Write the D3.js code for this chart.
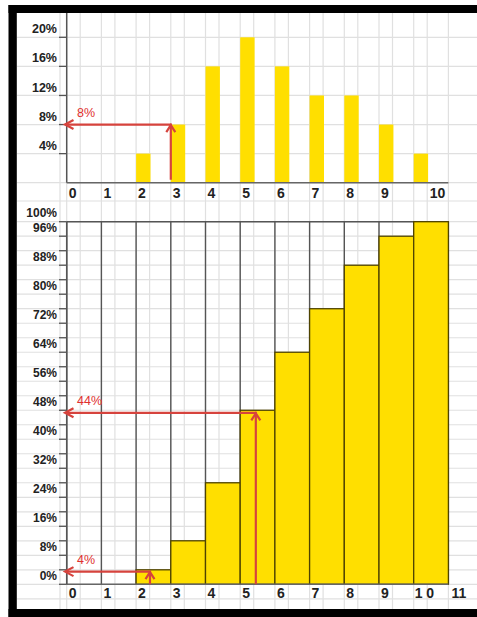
<!DOCTYPE html>
<html>
<head>
<meta charset="utf-8">
<script src="https://cdn.jsdelivr.net/npm/d3@7"></script>
<style>
  body { margin: 0; background: #fff; }
  svg { display: block; }
  text { font-family: "Liberation Sans", Arial, sans-serif; }
</style>
</head>
<body>
<div id="chart"></div>
<script>
// outcomes and their probabilities (%)
var categories = [0, 1, 2, 3, 4, 5, 6, 7, 8, 9, 10];
var probability = [0, 0, 4, 8, 16, 20, 16, 12, 12, 8, 4];
var cumulative = [0, 0, 4, 12, 28, 48, 64, 76, 88, 96, 100];

// axis ticks and labels
var topTicks = [4, 8, 12, 16, 20];
var topLabels = ["4%", "8%", "12%", "16%", "20%"];
var bottomTicks = [0, 4, 8, 12, 16, 20, 24, 28, 32, 36, 40, 44, 48, 52, 56, 60, 64, 68, 72, 76, 80, 84, 88, 92, 96, 100];
var bottomLabelValues = [100, 96, 88, 80, 72, 64, 56, 48, 40, 32, 24, 16, 8, 0];
var topXLabels = ["0", "1", "2", "3", "4", "5", "6", "7", "8", "9", "10"];
var bottomXLabels = ["0", "1", "2", "3", "4", "5", "6", "7", "8", "9", "1 0", "11"];

// red reading arrows
var topArrows = [{at: 3, from: 0.4, value: 8, label: "8%"}];
var bottomArrows = [
  {at: 5.45, from: 0, value: 47.3, label: "44%"},
  {at: 2.4, from: 0, value: 3.5, label: "4%"}
];

var W = 477, H = 617;
var red = "#d6433d", yellow = "#ffdf00", axisColor = "#555", gridColor = "#e0e0e0";

var svg = d3.select("#chart").append("svg")
  .attr("width", W)
  .attr("height", H);

var x = d3.scaleLinear().domain([0, 11]).range([66.7, 448.4]);
var yTop = d3.scaleLinear().domain([0, 20]).range([182.7, 37.3]);
var yBot = d3.scaleLinear().domain([0, 100]).range([584.3, 221.7]);

// spreadsheet-like background grid
var grid = svg.append("g").attr("stroke", gridColor).attr("stroke-width", 1.2);
var vx = [60].concat(d3.range(0, 12).map(function(k) { return x(k); }))
  .concat(d3.range(0, 11).map(function(k) { return x(k) + 13.5; }));
grid.selectAll("line.v").data(vx).enter().append("line")
  .attr("x1", function(d) { return d; }).attr("x2", function(d) { return d; })
  .attr("y1", 13).attr("y2", 609);
var hy = [0, 4, 8, 12, 16, 20].map(function(v) { return yTop(v); })
  .concat([201])
  .concat([-4].concat(bottomTicks).map(function(v) { return yBot(v); }));
grid.selectAll("line.h").data(hy).enter().append("line")
  .attr("x1", 17).attr("x2", W)
  .attr("y1", function(d) { return d; }).attr("y2", function(d) { return d; });

// ---- top chart: probability ----
var gTop = svg.append("g");

gTop.selectAll("rect.bar").data(categories).enter().append("rect")
  .attr("x", function(k) { return x(k); })
  .attr("width", function(k) { return x(k + 0.415) - x(k); })
  .attr("y", function(k) { return yTop(probability[k]); })
  .attr("height", function(k) { return yTop(0) - yTop(probability[k]); })
  .attr("fill", yellow);

gTop.append("line")
  .attr("x1", x(0)).attr("x2", x(0)).attr("y1", 13).attr("y2", yTop(0))
  .attr("stroke", axisColor).attr("stroke-width", 1.5);
gTop.append("line")
  .attr("x1", x(0)).attr("x2", x(11)).attr("y1", yTop(0)).attr("y2", yTop(0))
  .attr("stroke", "#666").attr("stroke-width", 1.5);

gTop.selectAll("line.tick").data(topTicks).enter().append("line")
  .attr("x1", 59).attr("x2", x(0))
  .attr("y1", function(d) { return yTop(d); }).attr("y2", function(d) { return yTop(d); })
  .attr("stroke", axisColor).attr("stroke-width", 1.3);

gTop.selectAll("text.ylab").data(topTicks).enter().append("text")
  .attr("x", 57)
  .attr("y", function(d) { return yTop(d) - 8.3; })
  .attr("dy", "0.35em")
  .attr("text-anchor", "end")
  .attr("font-size", 12.5).attr("font-weight", "bold").attr("fill", "#222")
  .text(function(d, i) { return topLabels[i]; });

gTop.selectAll("text.xlab").data(topXLabels).enter().append("text")
  .attr("x", function(d, i) { return x(i) + (d == "10" ? 16 : 2); })
  .attr("y", 193)
  .attr("dy", "0.35em")
  .attr("font-size", 14).attr("font-weight", "bold").attr("fill", "#222")
  .text(function(d) { return d; });

// ---- bottom chart: cumulative ----
var gBot = svg.append("g");

gBot.selectAll("line.col").data(d3.range(0, 12)).enter().append("line")
  .attr("x1", function(k) { return x(k); }).attr("x2", function(k) { return x(k); })
  .attr("y1", yBot(100)).attr("y2", yBot(0))
  .attr("stroke", axisColor).attr("stroke-width", 1.4);
gBot.append("line")
  .attr("x1", x(0)).attr("x2", x(11)).attr("y1", yBot(100)).attr("y2", yBot(100))
  .attr("stroke", axisColor).attr("stroke-width", 1.4);

gBot.selectAll("rect.bar").data(categories.filter(function(k) { return cumulative[k] > 0; }))
  .enter().append("rect")
  .attr("x", function(k) { return x(k); })
  .attr("width", function(k) { return x(k + 1) - x(k); })
  .attr("y", function(k) { return yBot(cumulative[k]); })
  .attr("height", function(k) { return yBot(0) - yBot(cumulative[k]); })
  .attr("fill", yellow)
  .attr("stroke", "#4e4300").attr("stroke-width", 1.3);

gBot.append("line")
  .attr("x1", x(0)).attr("x2", x(11)).attr("y1", yBot(0)).attr("y2", yBot(0))
  .attr("stroke", "#666").attr("stroke-width", 1.5);
gBot.append("line")
  .attr("x1", x(0)).attr("x2", x(0)).attr("y1", yBot(100)).attr("y2", yBot(0))
  .attr("stroke", axisColor).attr("stroke-width", 1.5);

gBot.selectAll("line.tick").data(bottomTicks).enter().append("line")
  .attr("x1", 59).attr("x2", x(0))
  .attr("y1", function(d) { return yBot(d); }).attr("y2", function(d) { return yBot(d); })
  .attr("stroke", axisColor).attr("stroke-width", 1.3);

gBot.selectAll("text.ylab").data(bottomLabelValues).enter().append("text")
  .attr("x", 57)
  .attr("y", function(d) { return yBot(d) - 8.6; })
  .attr("dy", "0.35em")
  .attr("text-anchor", "end")
  .attr("font-size", 12).attr("font-weight", "bold").attr("fill", "#222")
  .text(function(d) { return d + "%"; });

gBot.selectAll("text.xlab").data(bottomXLabels).enter().append("text")
  .attr("x", function(d, i) { return x(i) + (d == "11" ? 3 : d == "1 0" ? 1 : 2); })
  .attr("y", 593.3)
  .attr("dy", "0.35em")
  .attr("font-size", 14).attr("font-weight", "bold").attr("fill", "#222")
  .style("white-space", "pre")
  .text(function(d) { return d; });

// ---- arrows ----
function drawArrow(g, y, a) {
  var ax = x(a.at), ay = y(a.value), x0 = 65;
  var path = g.append("g")
    .attr("fill", "none").attr("stroke", red).attr("stroke-width", 2.2)
    .attr("stroke-linejoin", "miter");
  path.append("path").attr("d", "M" + ax + "," + y(a.from) + "V" + ay + "H" + (x0 + 1));
  // chevron heads
  path.append("path").attr("d", "M" + (ax - 4.5) + "," + (ay + 7.5) + "L" + ax + "," + (ay + 0.5) + "L" + (ax + 4.5) + "," + (ay + 7.5));
  path.append("path").attr("d", "M" + (x0 + 8.5) + "," + (ay - 4.5) + "L" + x0 + "," + ay + "L" + (x0 + 8.5) + "," + (ay + 4.5));
  g.append("text")
    .attr("x", 77).attr("y", ay - 12)
    .attr("dy", "0.35em")
    .attr("font-size", 12.5).attr("fill", "#e0302e")
    .text(a.label);
}
topArrows.forEach(function(a) { drawArrow(svg, yTop, a); });
bottomArrows.forEach(function(a) { drawArrow(svg, yBot, a); });

// black frame (top, left, bottom)
var frame = svg.append("g").attr("fill", "#000");
frame.append("rect").attr("x", 8.5).attr("y", 5).attr("width", W - 8.5).attr("height", 8);
frame.append("rect").attr("x", 8.5).attr("y", 5).attr("width", 8.3).attr("height", H - 5);
frame.append("rect").attr("x", 8.5).attr("y", 609).attr("width", W - 8.5).attr("height", 8);
</script>
</body>
</html>
